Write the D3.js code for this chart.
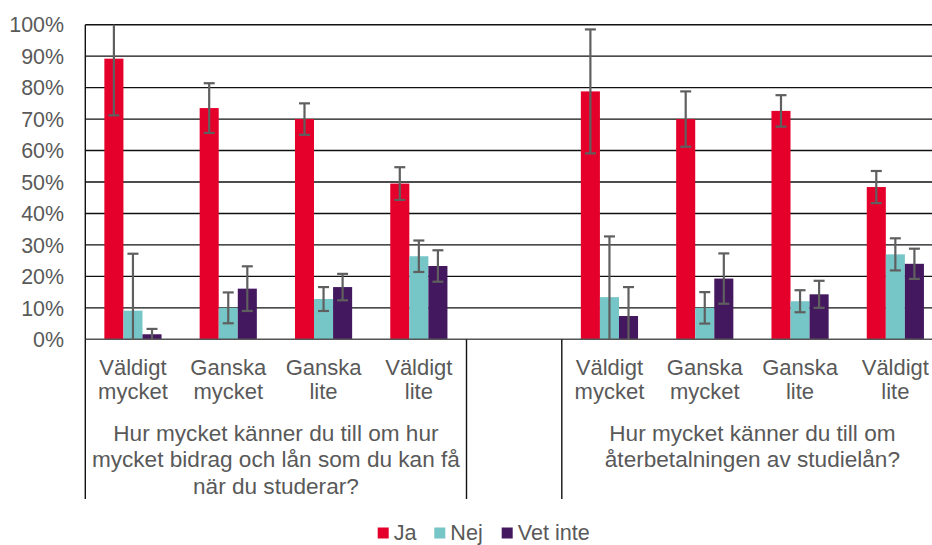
<!DOCTYPE html>
<meta charset="utf-8">
<html>
<head>
<style>
  body { margin: 0; background: #fff; }
  text { font-family: "Liberation Sans", Arial, sans-serif; fill: #595959; }
</style>
</head>
<body>
<div id="chart"></div>
<script src="https://d3js.org/d3.v7.min.js"></script>
<script>
  // slots: four answers per question, one blank slot between the questions
  var slots = ["q1a", "q1b", "q1c", "q1d", "gap", "q2a", "q2b", "q2c", "q2d"];
  var slotLabels = [
    ["Väldigt", "mycket"], ["Ganska", "mycket"], ["Ganska", "lite"], ["Väldigt", "lite"],
    [],
    ["Väldigt", "mycket"], ["Ganska", "mycket"], ["Ganska", "lite"], ["Väldigt", "lite"]
  ];
  var questions = [
    { from: 0, to: 3, lines: ["Hur mycket känner du till om hur", "mycket bidrag och lån som du kan få", "när du studerar?"] },
    { from: 5, to: 8, lines: ["Hur mycket känner du till om", "återbetalningen av studielån?"] }
  ];
  var groupEdges = [0, 4, 5, 9];

  var seriesNames = ["Ja", "Nej", "Vet inte"];
  var colors = ["#e4002b", "#76c5c7", "#44185e"];

  var ja     = [89.2, 73.5, 70.0, 49.5, null, 78.8, 70.0, 72.6, 48.4];
  var jaErr  = [18.0,  7.9,  5.0,  5.2, null, 19.7,  8.8,  5.0,  5.1];
  var nej    = [ 9.1, 10.0, 12.8, 26.4, null, 13.4, 10.0, 12.1, 27.0];
  var nejErr = [18.1,  4.9,  3.8,  5.0, null, 19.3,  5.0,  3.5,  5.1];
  var vet    = [ 1.6, 16.1, 16.6, 23.3, null,  7.4, 19.3, 14.3, 24.0];
  var vetErr = [ 1.7,  7.1,  4.2,  5.0, null,  9.2,  8.0,  4.3,  4.8];

  var values = [ja, nej, vet];
  var errors = [jaErr, nejErr, vetErr];
  var yTicks = [0, 10, 20, 30, 40, 50, 60, 70, 80, 90, 100];

  var W = 932, H = 545;
  var plotLeft = 85.3, plotTop = 24.7, plotBottom = 339.3;
  var step = 95.3;

  var svg = d3.select("#chart").append("svg")
      .attr("width", W)
      .attr("height", H);

  var x0 = d3.scaleBand()
      .domain(slots)
      .range([plotLeft, plotLeft + step * slots.length])
      .paddingInner(0.4)
      .paddingOuter(0.2);

  var x1 = d3.scaleBand()
      .domain(seriesNames)
      .range([0, x0.bandwidth()]);

  var y = d3.scaleLinear()
      .domain([0, 100])
      .range([plotBottom, plotTop]);

  // gridlines
  svg.append("g")
    .selectAll("line")
    .data(yTicks.filter(function(d) { return d > 0; }))
    .enter().append("line")
      .attr("x1", plotLeft)
      .attr("x2", W)
      .attr("y1", function(d) { return y(d); })
      .attr("y2", function(d) { return y(d); })
      .attr("stroke", "#111")
      .attr("stroke-width", 1.4);

  // y tick labels
  svg.append("g")
    .selectAll("text")
    .data(yTicks)
    .enter().append("text")
      .attr("x", 64)
      .attr("y", function(d) { return y(d); })
      .attr("dy", "0.36em")
      .attr("text-anchor", "end")
      .style("font-size", "21.4px")
      .text(function(d) { return d + "%"; });

  // bars
  var rows = [];
  slots.forEach(function(s, i) {
    seriesNames.forEach(function(n, k) {
      if (values[k][i] != null) {
        rows.push({ slot: s, series: n, k: k, value: values[k][i], err: errors[k][i] });
      }
    });
  });

  svg.append("g")
    .selectAll("rect")
    .data(rows)
    .enter().append("rect")
      .attr("x", function(d) { return x0(d.slot) + x1(d.series); })
      .attr("y", function(d) { return y(d.value); })
      .attr("width", x1.bandwidth())
      .attr("height", function(d) { return y(0) - y(d.value); })
      .attr("fill", function(d) { return colors[d.k]; });

  // x axis baseline
  svg.append("line")
    .attr("x1", plotLeft).attr("x2", W)
    .attr("y1", y(0)).attr("y2", y(0))
    .attr("stroke", "#555")
    .attr("stroke-width", 1.4);

  // error bars, clipped to the 0-100 range
  var eb = svg.append("g")
    .selectAll("g")
    .data(rows)
    .enter().append("g")
      .attr("stroke", "#5f5f5f")
      .attr("stroke-width", 2.2);

  function cx(d) { return x0(d.slot) + x1(d.series) + x1.bandwidth() / 2; }
  var hi = function(d) { return d.value + d.err; };
  var lo = function(d) { return d.value - d.err; };

  eb.append("line")
    .attr("x1", cx).attr("x2", cx)
    .attr("y1", function(d) { return y(Math.min(100, hi(d))); })
    .attr("y2", function(d) { return y(Math.max(0, lo(d))); });

  eb.filter(function(d) { return hi(d) <= 100; })
    .append("line")
    .attr("x1", function(d) { return cx(d) - 5.5; })
    .attr("x2", function(d) { return cx(d) + 5.5; })
    .attr("y1", function(d) { return y(hi(d)); })
    .attr("y2", function(d) { return y(hi(d)); });

  eb.filter(function(d) { return lo(d) >= 0; })
    .append("line")
    .attr("x1", function(d) { return cx(d) - 5.5; })
    .attr("x2", function(d) { return cx(d) + 5.5; })
    .attr("y1", function(d) { return y(lo(d)); })
    .attr("y2", function(d) { return y(lo(d)); });

  // left axis line and group separators
  svg.append("line")
    .attr("x1", plotLeft).attr("x2", plotLeft)
    .attr("y1", plotTop).attr("y2", plotBottom)
    .attr("stroke", "#111")
    .attr("stroke-width", 1.4);

  svg.append("g")
    .selectAll("line")
    .data(groupEdges)
    .enter().append("line")
      .attr("x1", function(d) { return plotLeft + d * x0.step(); })
      .attr("x2", function(d) { return plotLeft + d * x0.step(); })
      .attr("y1", plotBottom)
      .attr("y2", 499)
      .attr("stroke", "#111")
      .attr("stroke-width", 1.4);

  // category labels
  var cat = svg.append("g")
    .selectAll("text")
    .data(slots)
    .enter().append("text")
      .attr("text-anchor", "middle")
      .style("font-size", "22px");

  cat.selectAll("tspan")
    .data(function(d, i) {
      return slotLabels[i].map(function(t) { return { slot: d, t: t }; });
    })
    .enter().append("tspan")
      .attr("x", function(d) { return x0(d.slot) + x0.bandwidth() / 2; })
      .attr("y", function(d, j) { return 375 + j * 23.5; })
      .text(function(d) { return d.t; });

  // question labels
  var q = svg.append("g")
    .selectAll("text")
    .data(questions)
    .enter().append("text")
      .attr("text-anchor", "middle")
      .style("font-size", "22.6px");

  q.selectAll("tspan")
    .data(function(d) {
      var c = plotLeft + (d.from + d.to + 1) / 2 * x0.step();
      return d.lines.map(function(t) { return { c: c, t: t }; });
    })
    .enter().append("tspan")
      .attr("x", function(d) { return d.c; })
      .attr("y", function(d, j) { return 440.7 + j * 26.4; })
      .text(function(d) { return d.t; });

  // legend
  var legendX = [377.7, 434.3, 501.7];
  var lg = svg.append("g")
    .selectAll("g")
    .data(seriesNames)
    .enter().append("g")
      .attr("transform", function(d, i) { return "translate(" + legendX[i] + ",527.5)"; });

  lg.append("rect")
    .attr("width", 11)
    .attr("height", 11)
    .attr("fill", function(d, i) { return colors[i]; });

  lg.append("text")
    .attr("x", 16)
    .attr("y", 12.5)
    .style("font-size", "21.6px")
    .text(function(d) { return d; });
</script>
</body>
</html>
